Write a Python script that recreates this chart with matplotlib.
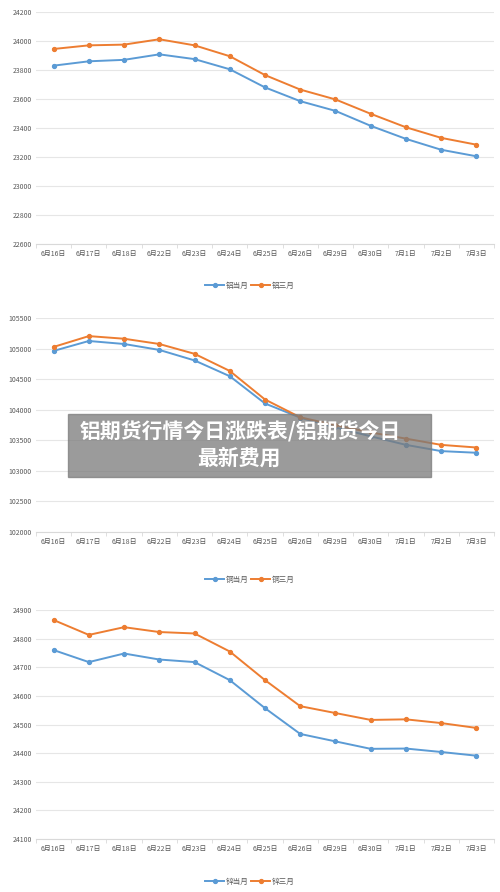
import numpy as np
import matplotlib.pyplot as plt
from matplotlib.patches import Rectangle

plt.rcParams['font.family'] = ['Noto Sans CJK SC', 'DejaVu Sans']

dates = ['6月16日', '6月17日', '6月18日', '6月22日', '6月23日', '6月24日', '6月25日',
         '6月26日', '6月29日', '6月30日', '7月1日', '7月2日', '7月3日']

al_cur = [23830, 23860, 23870, 23908, 23875, 23805, 23680, 23585, 23518, 23415, 23325, 23250, 23205]
al_3m = [23945, 23970, 23975, 24012, 23970, 23895, 23765, 23665, 23597, 23498, 23405, 23332, 23285]

cu_cur = [104962, 105124, 105075, 104978, 104806, 104548, 104102, 103870, 103710, 103565, 103425, 103323, 103296]
cu_3m = [105027, 105204, 105161, 105075, 104914, 104634, 104167, 103876, 103747, 103629, 103527, 103425, 103382]

zn_cur = [24760, 24718, 24748, 24727, 24718, 24655, 24557, 24467, 24441, 24415, 24416, 24404, 24391]
zn_3m = [24865, 24813, 24840, 24823, 24818, 24755, 24655, 24564, 24540, 24516, 24518, 24505, 24488]

panels = [
    (al_cur, al_3m, '铝当月', '铝三月', 22600, 24200, 200, 12, 244, 286),
    (cu_cur, cu_3m, '铜当月', '铜三月', 102000, 105500, 500, 318, 532, 580),
    (zn_cur, zn_3m, '锌当月', '锌三月', 24100, 24900, 100, 610, 839, 882),
]

W, H = 500, 892
fig = plt.figure(figsize=(W / 100, H / 100), dpi=100)
blue = '#5b9bd5'
orange = '#ed7d31'

for cur, m3, l1, l2, lo, hi, step, top, bot, legy in panels:
    ax = fig.add_axes([36 / W, 1 - bot / H, 458 / W, (bot - top) / H])
    x = np.arange(len(dates))
    ax.plot(x, cur, color=blue, lw=1.4, marker='o', ms=2.8, label=l1)
    ax.plot(x, m3, color=orange, lw=1.4, marker='o', ms=2.8, label=l2)
    ax.set_xlim(-0.5, len(dates) - 0.5)
    ax.set_ylim(lo, hi)
    ax.set_yticks(np.arange(lo, hi + 1, step))
    ax.set_xticks(x)
    ax.set_xticklabels(dates)
    ax.set_xticks(np.arange(-0.5, len(dates), 1), minor=True)
    ax.tick_params(axis='x', which='major', length=0, labelsize=5, colors='#595959', pad=4)
    ax.tick_params(axis='x', which='minor', length=3, color='#d9d9d9')
    ax.tick_params(axis='y', length=0, labelsize=5, colors='#595959', pad=3)
    ax.grid(axis='y', color='#e6e6e6', lw=0.8)
    ax.set_axisbelow(True)
    for s in ['top', 'right', 'left']:
        ax.spines[s].set_visible(False)
    ax.spines['bottom'].set_color('#d9d9d9')
    fig.legend(loc='center', bbox_to_anchor=(0.5, 1 - legy / H), ncol=2, frameon=False,
               fontsize=5.5, handlelength=2.5, columnspacing=0.3, handletextpad=0.2,
               labelcolor='#595959', bbox_transform=fig.transFigure,
               handles=ax.get_lines())

fig.patches.append(Rectangle((68 / W, 1 - 477 / H), 363 / W, 63 / H, transform=fig.transFigure,
                             color='#7a7a7a', alpha=0.75, zorder=10))
fig.text(0.48, 1 - 432 / H, '铝期货行情今日涨跌表/铝期货今日', ha='center', va='center',
         color='white', fontsize=15, fontweight='bold', zorder=11)
fig.text(0.478, 1 - 458 / H, '最新费用', ha='center', va='center',
         color='white', fontsize=15, fontweight='bold', zorder=11)

fig.savefig('out.png', dpi=100)
